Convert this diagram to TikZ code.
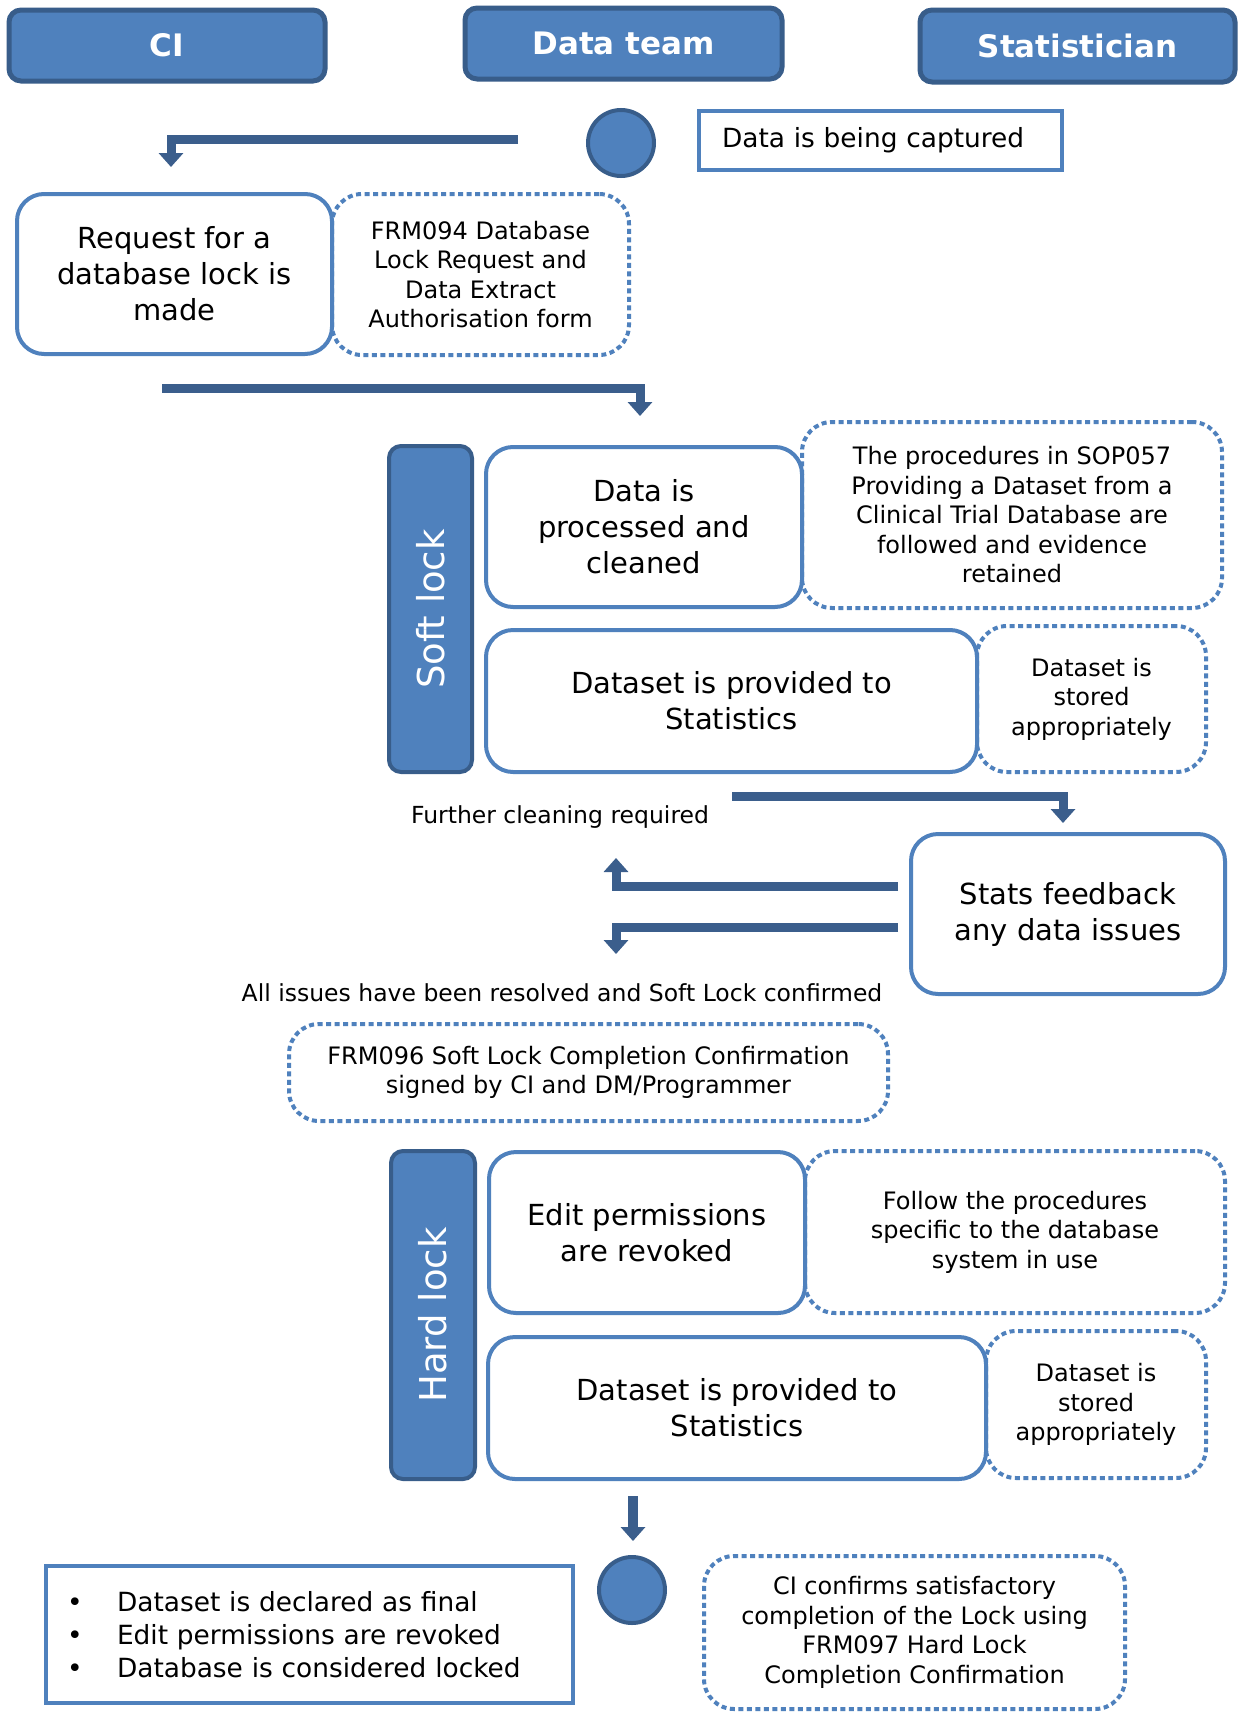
\documentclass[tikz,border=0pt]{standalone}
\usepackage{fontspec}
\setmainfont{DejaVu Sans}
\usetikzlibrary{arrows.meta}
\definecolor{fillblue}{HTML}{4F81BD}
\definecolor{edgeblue}{HTML}{385D8A}
\definecolor{arrowblue}{HTML}{3B5E8C}
\begin{document}
\begin{tikzpicture}[x=1pt,y=-1pt,
 lane/.style={draw=edgeblue, fill=fillblue, line width=5pt, rounded corners=12pt, text=white, font=\fontsize{31}{36}\selectfont\bfseries, inner sep=0pt},
 stepbox/.style={draw=fillblue, fill=white, line width=4pt, rounded corners=27pt, align=center, inner sep=0pt, font=\fontsize{29}{36}\selectfont},
 notebox/.style={draw=fillblue, line width=4pt, dash pattern=on 5pt off 3.5pt, rounded corners=30pt, align=center, inner sep=0pt, font=\fontsize{24}{29.5}\selectfont},
 lockbar/.style={draw=edgeblue, fill=fillblue, line width=4pt, rounded corners=12pt, text=white, font=\fontsize{37}{44}\selectfont, inner sep=0pt, rotate=90},
 dot/.style={circle, draw=edgeblue, fill=fillblue, line width=4pt, minimum size=66pt, inner sep=0pt},
 flow/.style={draw=arrowblue, line width=9pt, line join=miter, -{Triangle[width=24pt,length=14pt]}},
 lbl/.style={font=\fontsize{23.5}{28}\selectfont, inner sep=0pt},
 plainbox/.style={draw=fillblue, fill=white, line width=4pt, align=left},
]
\fill[white] (0,0) rectangle (1245,1713);
\useasboundingbox (0,0) rectangle (1245,1713);

% lane headers
\node[lane, minimum width=316pt, minimum height=71pt] (ci) at (167,45.5) {CI};
\node[lane, minimum width=317pt, minimum height=71pt] (dt) at (623.5,43.5) {Data team};
\node[lane, minimum width=315pt, minimum height=72pt] (st) at (1077.5,46) {Statistician};

% start
\node[dot] (start) at (621,143) {};
\node[plainbox, minimum width=363pt, minimum height=59pt, text width=317pt, inner xsep=23pt, inner ysep=0pt, font=\fontsize{26.4}{32}\selectfont] (capt) at (880.5,140.5) {Data is being captured};

% notes (dotted)
\node[notebox, minimum width=297pt, minimum height=161pt] (frm094) at (480.5,274.5) {FRM094 Database\\Lock Request and\\Data Extract\\Authorisation form};
\node[notebox, minimum width=420pt, minimum height=186pt] (sop) at (1012,515) {The procedures in SOP057\\Providing a Dataset from a\\Clinical Trial Database are\\followed and evidence\\retained};
\node[notebox, minimum width=229pt, minimum height=146pt] (stor1) at (1091.5,699) {Dataset is\\stored\\appropriately};
\node[notebox, minimum width=599pt, minimum height=97pt] (frm096) at (588.5,1072.5) {FRM096 Soft Lock Completion Confirmation\\signed by CI and DM/Programmer};
\node[notebox, minimum width=420pt, minimum height=162pt] (follow) at (1015,1232) {Follow the procedures\\specific to the database\\system in use};
\node[notebox, minimum width=220pt, minimum height=147pt] (stor2) at (1096,1404.5) {Dataset is\\stored\\appropriately};
\node[notebox, minimum width=421pt, minimum height=153pt] (ciconf) at (914.5,1632.5) {CI confirms satisfactory\\completion of the Lock using\\FRM097 Hard Lock\\Completion Confirmation};

% steps
\node[stepbox, minimum width=315pt, minimum height=160pt] (req) at (174.5,274) {Request for a\\database lock is\\made};
\node[lockbar, minimum width=326pt, minimum height=83pt] (soft) at (430.5,609) {Soft lock};
\node[stepbox, minimum width=316pt, minimum height=160pt] (proc) at (644,527) {Data is\\processed and\\cleaned};
\node[stepbox, minimum width=491pt, minimum height=142pt] (prov1) at (731.5,701) {Dataset is provided to\\Statistics};
\node[stepbox, minimum width=314pt, minimum height=160pt] (stats) at (1068,914) {Stats feedback\\any data issues};
\node[lockbar, minimum width=328pt, minimum height=84pt] (hard) at (433,1315) {Hard lock};
\node[stepbox, minimum width=316pt, minimum height=161pt] (edit) at (647,1232.5) {Edit permissions\\are revoked};
\node[stepbox, minimum width=498pt, minimum height=142pt] (prov2) at (737,1408) {Dataset is provided to\\Statistics};

% labels
\node[lbl] (further) at (560,817) {Further cleaning required};
\node[lbl] (resolved) at (562,993) {All issues have been resolved and Soft Lock confirmed};

% end
\node[dot] (finish) at (632,1590) {};
\node[plainbox, minimum width=527pt, minimum height=137pt, text width=485pt, inner xsep=21pt, inner ysep=0pt, font=\fontsize{26.4}{33}\selectfont] (final) at (309.5,1634.5)
 {\makebox[50pt][l]{\textbullet}Dataset is declared as final\\
  \makebox[50pt][l]{\textbullet}Edit permissions are revoked\\
  \makebox[50pt][l]{\textbullet}Database is considered locked};

% arrows
\coordinate (a1s) at (518,139.5);
\coordinate (a1e) at (171,167);
\coordinate (a2s) at (162,388);
\coordinate (a2e) at (640,416);
\coordinate (a3s) at (732,796);
\coordinate (a3e) at (1063,823);
\coordinate (a4s) at (898,886);
\coordinate (a4e) at (616,858);
\coordinate (a5s) at (898,927);
\coordinate (a5e) at (616,954);
\coordinate (a6s) at (633,1496);
\coordinate (a6e) at (633,1541);
\draw[flow] (a1s) -| (a1e);
\draw[flow] (a2s) -| (a2e);
\draw[flow] (a3s) -| (a3e);
\draw[flow] (a4s) -| (a4e);
\draw[flow] (a5s) -| (a5e);
\draw[flow, line width=10pt] (a6s) -- (a6e);
\end{tikzpicture}
\end{document}
